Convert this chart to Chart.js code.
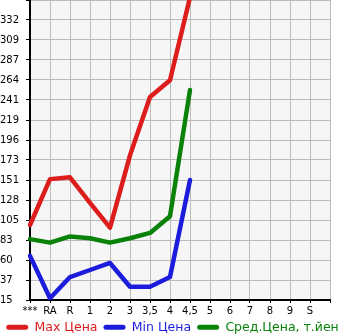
<!DOCTYPE html>
<html>
<head>
<meta charset="utf-8">
<script src="https://cdn.jsdelivr.net/npm/chart.js@4"></script>
<style>
html,body{margin:0;padding:0;background:#fff;}
#wrap{position:relative;width:345px;height:335px;}
</style>
</head>
<body>
<div id="wrap"><canvas id="c" width="345" height="335"></canvas></div>
<script>
const categories = ['***','RA','R','1','2','3','3,5','4','4,5','5','6','7','8','9','S'];
const maxPrice = [100, 152, 154, 125, 97, 179, 245, 264, 358];
const minPrice = [65, 17, 41, 49, 57, 30, 30, 41, 151];
const avgPrice = [84, 80, 87, 85, 80, 85, 91, 110, 253];
const yTickLabels = ['15','37','60','83','105','128','151','173','196','219','241','264','287','309','332'];
const seriesNames = ['Max Цена','Min Цена','Сред.Цена, т.йен'];
const yMin = 15, yMax = 355;

const bgPlugin = {
  id: 'bg',
  beforeLayout(chart) {
    const l = chart.legend;
    if (l && !l._compact) {
      const f = l.fit;
      l.fit = function () { f.call(this); this.height = 14; };
      l._compact = true;
    }
  },
  beforeDraw(chart) {
    const {ctx, chartArea: a} = chart;
    ctx.save();
    ctx.fillStyle = '#f6f6f6';
    ctx.fillRect(a.left, a.top, a.right - a.left, a.bottom - a.top);
    ctx.restore();
  },
  afterLayout(chart) {
    const l = chart.legend;
    if (l) {
      l.top = 315;
      l.bottom = 335;
      l.height = 20;
    }
  }
};

const font = {family: 'DejaVu Sans', size: 10};
new Chart(document.getElementById('c'), {
  type: 'line',
  data: {
    labels: [...categories, ''],
    datasets: [
      {label: seriesNames[0], data: maxPrice, borderColor: '#dd1c1c', backgroundColor: '#dd1c1c'},
      {label: seriesNames[1], data: minPrice, borderColor: '#1c1cdd', backgroundColor: '#1c1cdd'},
      {label: seriesNames[2], data: avgPrice, borderColor: '#0a820a', backgroundColor: '#0a820a'}
    ]
  },
  options: {
    responsive: false,
    animation: false,
    devicePixelRatio: 1,
    layout: {padding: 0},
    elements: {
      line: {borderWidth: 4.5, tension: 0, borderCapStyle: 'round', borderJoinStyle: 'round'},
      point: {radius: 0}
    },
    plugins: {
      tooltip: {enabled: false},
      legend: {
        position: 'bottom',
        labels: {
          boxWidth: 22, boxHeight: 5, useBorderRadius: true, borderRadius: 2.5,
          padding: 6,
          font: {family: 'DejaVu Sans', size: 12.5},
          generateLabels(chart) {
            return Chart.defaults.plugins.legend.labels.generateLabels(chart).map(l => ({
              ...l, fontColor: l.strokeStyle, lineWidth: 0
            }));
          }
        }
      }
    },
    scales: {
      x: {
        offset: false,
        border: {color: '#000', width: 2},
        grid: {color: '#bbbbbb', lineWidth: 1, tickLength: 3, tickColor: '#000', drawOnChartArea: true},
        ticks: {autoSkip: false, maxRotation: 0, color: '#000', font, padding: 2},
        afterFit(scale) {
          const lh = scale.chart.legend ? scale.chart.legend.height : 0;
          scale.height = 335 - 300 - lh;
          scale.paddingLeft = 0; scale.paddingRight = 15;
        }
      },
      y: {
        min: yMin, max: yMax,
        border: {color: '#000', width: 2},
        grid: {color: '#bbbbbb', lineWidth: 1, tickLength: 4, tickColor: '#000'},
        afterBuildTicks(scale) {
          const n = yTickLabels.length;
          const step = (yMax - yMin) / n;
          const t = [];
          for (let i = 0; i <= n; i++) t.push({value: yMin + i * step});
          scale.ticks = t;
        },
        ticks: {
          color: '#000', font, crossAlign: 'far', padding: 2,
          callback(v, i) { return i < yTickLabels.length ? yTickLabels[i] : ''; }
        },
        afterFit(scale) {
          scale.width = 30;
          scale.paddingTop = 0; scale.paddingBottom = 0;
        }
      }
    }
  },
  plugins: [bgPlugin]
});
</script>
</body>
</html>
